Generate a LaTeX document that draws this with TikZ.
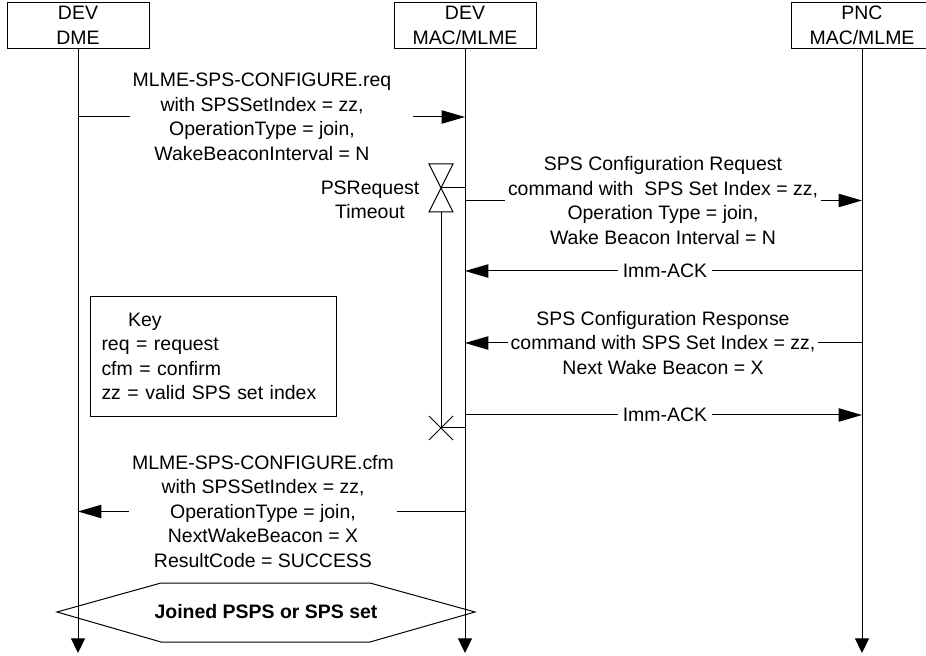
\documentclass[tikz,border=0pt]{standalone}
\usepackage{fontspec}
\setmainfont{Liberation Sans}
\usetikzlibrary{arrows.meta}
\begin{document}
\begin{tikzpicture}[x=.75pt,y=-.75pt,line width=.75pt,
  font=\fontsize{14.6}{18.4}\selectfont,
  entity/.style={draw,minimum width=106.5pt,minimum height=34pt,align=center,inner sep=0pt},
  msgtxt/.style={align=center,inner xsep=2pt},
  tip/.style={-{Triangle[length=17.5pt,width=10pt]}},
  life/.style={-{Triangle[length=11pt,width=10.5pt]}}]
\useasboundingbox (0,0) rectangle (926,656);
\node[entity] (dme) at (78,25.5) {DEV\\DME};
\node[entity] (mac) at (465,25.5) {DEV\\MAC/MLME};
\node[entity] (pnc) at (862,25.5) {PNC\\MAC/MLME};
\coordinate (bottom) at (0,653);
\foreach \n in {dme,mac,pnc} \draw[life] (\n.south) -- (\n.south |- bottom);

\node[msgtxt] (req) at (262,117) {MLME-SPS-CONFIGURE.req\\with SPSSetIndex = zz,\\OperationType = join,\\WakeBeaconInterval = N};
\draw (req.west -| dme) -- (req.west);
\draw[tip,shorten <=14pt] (req.east) -- (req.east -| mac);

\coordinate (tmstart) at (441,188); \coordinate (tmstop) at (441,428);
\draw (tmstart) ++(-12,-24) -- ++(24,0) -- ++(-24,48) -- ++(24,0) -- cycle;
\draw (tmstart) -- (tmstart -| mac);
\draw (tmstart) ++(0,24) -- (tmstop);
\draw (tmstop) ++(-12,-12) -- ++(24,24) (tmstop) ++(12,-12) -- ++(-24,24);
\draw (tmstop) -- (tmstop -| mac);
\node[align=center] (psreq) at (370,200) {PSRequest\\Timeout};

\node[msgtxt] (cfgreq) at (663,200.5) {SPS Configuration Request\\command with~ SPS Set Index = zz,\\Operation Type = join,\\Wake Beacon Interval = N};
\draw (cfgreq.west -| mac) -- (cfgreq.west);
\draw[tip] (cfgreq.east) -- (cfgreq.east -| pnc);

\node (ack1) at (665,271) {Imm-ACK};
\draw (ack1 -| pnc) -- (ack1.east);
\draw[tip] (ack1.west) -- (ack1 -| mac);

\node[msgtxt] (cfgrsp) at (663,343) {SPS Configuration Response\\command with SPS Set Index = zz,\\Next Wake Beacon = X};
\draw (cfgrsp.east -| pnc) -- (cfgrsp.east);
\draw[tip] (cfgrsp.west) -- (cfgrsp.west -| mac);

\node (ack2) at (665,415) {Imm-ACK};
\draw (ack2 -| mac) -- (ack2.west);
\draw[tip] (ack2.east) -- (ack2 -| pnc);

\node[draw,align=left,text width=168pt,inner xsep=8.25pt,minimum height=90pt,anchor=north west] (key) at (90,296)
  {\hspace{20pt}Key\\req = request\\cfm = confirm\\zz = valid SPS set index};

\node[msgtxt] (cfm) at (263,511.5) {MLME-SPS-CONFIGURE.cfm\\with SPSSetIndex = zz,\\OperationType = join,\\NextWakeBeacon = X\\ResultCode = SUCCESS};
\draw (cfm.east -| mac) -- (cfm.east);
\draw[tip] (cfm.west) -- (cfm.west -| dme);

\node[font=\fontsize{14.6}{18.4}\selectfont\bfseries] (joined) at (266,612) {Joined PSPS or SPS set};
\draw (joined) ++(-209,0) -- ++(104,-29) -- ++(209,0) -- ++(105,29) -- ++(-105,30) -- ++(-209,0) -- cycle;
\end{tikzpicture}
\end{document}
